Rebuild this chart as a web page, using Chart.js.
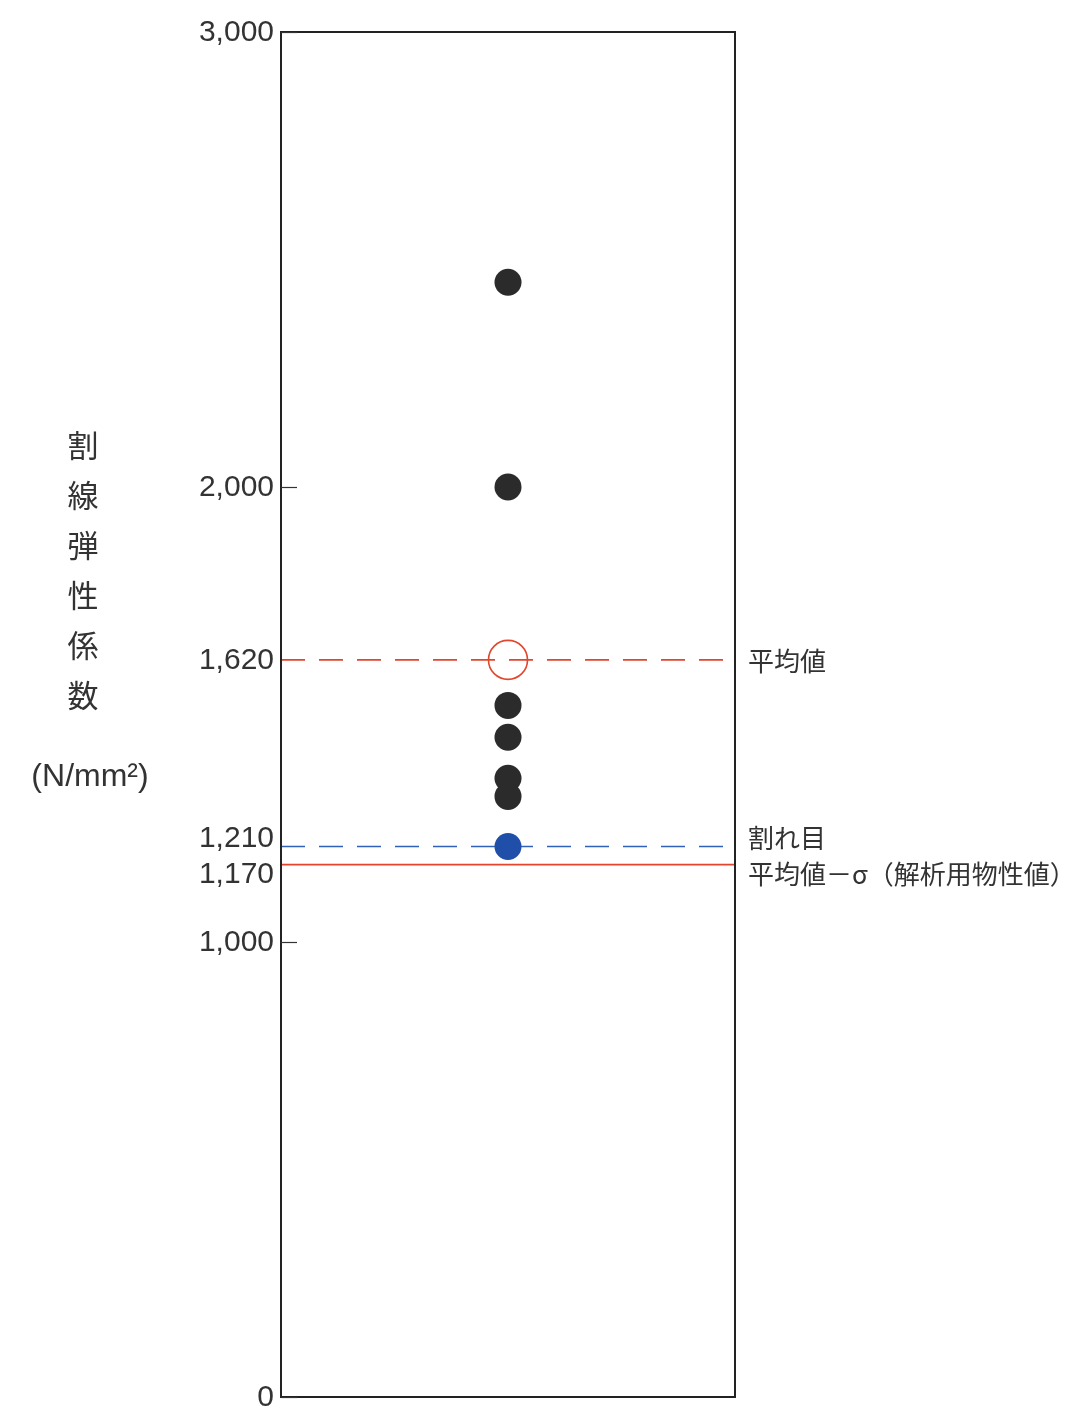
<!DOCTYPE html>
<html>
<head>
<meta charset="utf-8">
<script src="https://cdn.jsdelivr.net/npm/chart.js@4/dist/chart.umd.min.js"></script>
<style>
  html, body { margin: 0; padding: 0; background: #fff; }
  canvas { display: block; }
</style>
</head>
<body>
<canvas id="chart" width="1084" height="1408"></canvas>
<script>
// Secant modulus of each specimen (N/mm²)
const specimenValues = [2450, 2000, 1520, 1450, 1360, 1320];
// Specimen with a crack
const crackValues = [1210];
// Mean of all specimens
const meanValues = [1620];
// Mean minus one standard deviation (value used for analysis)
const meanMinusSigmaValues = [1170];
// Values labelled on the vertical axis
const yTickValues = [0, 1000, 1170, 1210, 1620, 2000, 3000];
// Reference line captions, in the order mean / crack / mean − σ
const refCaptions = ['平均値', '割れ目', '平均値－σ（解析用物性値）'];
// Axis title
const yTitleChars = ['割', '線', '弾', '性', '係', '数'];
const yTitleUnit = '(N/mm²)';

const refValues = [meanValues[0], crackValues[0], meanMinusSigmaValues[0]];

const RED = '#e2462c';
const BLUE = '#2f62b8';
const INK = '#333333';
const NUM_FONT = '30px "Liberation Sans", Arial, sans-serif';
const CJK_FONT = '"Noto Sans CJK JP", "Noto Sans", sans-serif';

// Spread labels that sit too close to each other, keeping each pair centred on its marks
function spreadLabels(items, minGap) {
  const sorted = items.slice().sort((a, b) => a.y - b.y);
  for (let i = 1; i < sorted.length; i++) {
    const a = sorted[i - 1], b = sorted[i];
    const gap = b.y - a.y;
    if (gap < minGap) {
      const push = (minGap - gap) / 2;
      a.y -= push;
      b.y += push;
    }
  }
  return sorted;
}

const framePlugin = {
  id: 'frameAndLabels',
  afterDatasetsDraw(chart) {
    const { ctx, chartArea: area, scales } = chart;
    const y = scales.y;
    ctx.save();

    // Plot frame
    ctx.strokeStyle = '#222';
    ctx.lineWidth = 2;
    ctx.strokeRect(area.left, area.top, area.right - area.left, area.bottom - area.top);

    // Inward tick marks (values with a reference line already have a full-width line)
    ctx.lineWidth = 1.2;
    ctx.strokeStyle = INK;
    yTickValues.filter(v => !refValues.includes(v)).forEach(v => {
      const py = Math.round(y.getPixelForValue(v)) + 0.5;
      ctx.beginPath();
      ctx.moveTo(area.left, py);
      ctx.lineTo(area.left + 16, py);
      ctx.stroke();
    });

    // Tick labels
    ctx.fillStyle = INK;
    ctx.font = NUM_FONT;
    ctx.textAlign = 'right';
    ctx.textBaseline = 'middle';
    const ticks = spreadLabels(yTickValues.map(v => ({ v, y: y.getPixelForValue(v) })), 36);
    ticks.forEach(t => ctx.fillText(t.v.toLocaleString('en-US'), area.left - 7, t.y + 1));

    // Reference line captions
    ctx.font = '26px ' + CJK_FONT;
    ctx.textAlign = 'left';
    const caps = spreadLabels(refValues.map((v, i) => ({ text: refCaptions[i], y: y.getPixelForValue(v) })), 36);
    caps.forEach(c => ctx.fillText(c.text, area.right + 13, c.y + 1));

    // Vertical axis title, one character per row
    ctx.font = '31px ' + CJK_FONT;
    ctx.textAlign = 'center';
    const titleX = 83;
    const titleTop = area.top + 413;
    yTitleChars.forEach((ch, i) => ctx.fillText(ch, titleX, titleTop + i * 50));
    ctx.font = '32px "Liberation Sans", Arial, sans-serif';
    ctx.fillText(yTitleUnit, 90, titleTop + 5 * 50 + 82);

    ctx.restore();
  }
};

function hLine(value, color, dash) {
  return {
    type: 'line',
    data: [{ x: 0, y: value }, { x: 2, y: value }],
    borderColor: color,
    borderWidth: 1.6,
    borderDash: dash,
    pointRadius: 0,
    fill: false,
    order: 5
  };
}

new Chart(document.getElementById('chart'), {
  type: 'scatter',
  data: {
    datasets: [
      hLine(meanValues[0], RED, [24, 14]),
      hLine(crackValues[0], BLUE, [24, 14]),
      hLine(meanMinusSigmaValues[0], RED, []),
      {
        label: 'specimens',
        data: specimenValues.map(v => ({ x: 1, y: v })),
        backgroundColor: '#2b2b2b',
        borderColor: '#2b2b2b',
        borderWidth: 0,
        pointRadius: 13.5,
        order: 1
      },
      {
        label: 'crack',
        data: crackValues.map(v => ({ x: 1, y: v })),
        backgroundColor: '#1f4fa8',
        borderColor: '#1f4fa8',
        borderWidth: 0,
        pointRadius: 13.5,
        order: 1
      },
      {
        label: 'mean',
        data: meanValues.map(v => ({ x: 1, y: v })),
        backgroundColor: 'rgba(255,255,255,0)',
        borderColor: RED,
        borderWidth: 1.6,
        pointRadius: 19.5,
        order: 0
      }
    ]
  },
  options: {
    responsive: false,
    animation: false,
    events: [],
    layout: { autoPadding: false, padding: { left: 281, right: 349, top: 32, bottom: 11 } },
    plugins: { legend: { display: false }, tooltip: { enabled: false } },
    scales: {
      x: { type: 'linear', min: 0, max: 2, display: false },
      y: { type: 'linear', min: 0, max: 3000, display: false }
    }
  },
  plugins: [framePlugin]
});
</script>
</body>
</html>
